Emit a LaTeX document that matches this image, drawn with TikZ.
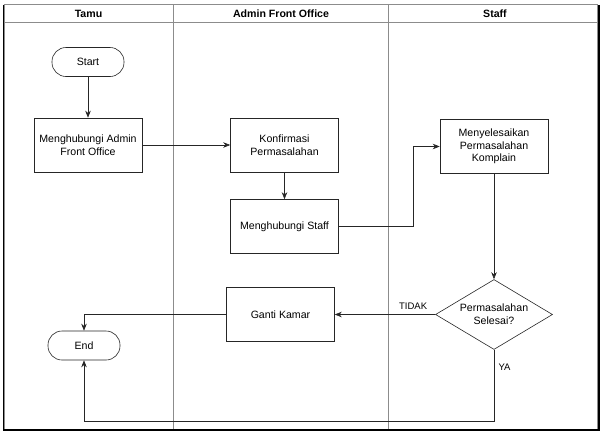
\documentclass[tikz,border=0pt]{standalone}
\usepackage{fontspec}
\setmainfont{Liberation Sans}
\usepackage{tikz}
\usetikzlibrary{arrows.meta, shapes.geometric, calc, positioning}

\begin{document}
\begin{tikzpicture}[x=1pt, y=-1pt,
  font=\fontsize{10.6}{12.7}\selectfont,
  lane/.style={draw=black!45, line width=0.7pt},
  proses/.style={draw=black!85, line width=0.6pt, minimum width=108pt, minimum height=54pt, align=center, inner sep=2pt},
  terminal/.style={draw=black!85, line width=0.6pt, rounded corners=14pt, minimum width=72pt, minimum height=29pt, inner sep=2pt},
  keputusan/.style={draw=black!85, line width=0.6pt, diamond, aspect=1.67, minimum width=117pt, minimum height=70pt, inner sep=0pt, align=center},
  alur/.style={draw=black!85, line width=0.6pt, -{Stealth[length=7pt, width=5.5pt]}},
  judul/.style={font=\fontsize{10.6}{12.7}\selectfont\bfseries}]
\useasboundingbox (0,0) rectangle (603,432);

% kolom (swimlane)
\draw[lane] (4,4.5) rectangle (597,430);
\draw[lane] (4,22.5) -- (597,22.5);
\draw[lane] (173,4.5) -- (173,430);
\draw[lane] (388,4.5) -- (388,430);
\draw[black, line width=1.4pt] (3.5,4.5) -- (3.5,430) -- (599,430) -- (599,4.5);
\node[judul] (tamu) at (88.5,14) {Tamu};
\node[judul] (admin) at (281,14) {Admin Front Office};
\node[judul] (staff) at (495,14) {Staff};

% langkah
\node[terminal] (start) at (88,62) {Start};
\node[proses] (hubadmin) at (88,145) {Menghubungi Admin\\Front Office};
\node[proses] (konfirmasi) at (284.5,145) {Konfirmasi\\Permasalahan};
\node[proses] (hubstaff) at (284.5,226.5) {Menghubungi Staff};
\node[proses] (selesaikan) at (494,146.5) {Menyelesaikan\\Permasalahan\\Komplain};
\node[keputusan] (cek) at (494,314.5) {Permasalahan\\Selesai?};
\node[proses] (ganti) at (280.5,314.5) {Ganti Kamar};
\node[terminal] (end) at (84,345.5) {End};
\coordinate (tekuk) at (413,226.5);
\coordinate (bawah) at (494,421);

% panah
\draw[alur] (start) -- (hubadmin);
\draw[alur] (hubadmin) -- (konfirmasi);
\draw[alur] (konfirmasi) -- (hubstaff);
\draw[alur] (hubstaff.east) -- (tekuk) |- (selesaikan.west);
\draw[alur] (selesaikan) -- (cek);
\draw[alur] (cek.west) -- (ganti.east) node[pos=0.22, above=1pt, font=\fontsize{9.5}{11}\selectfont] (tidak) {TIDAK};
\draw[alur] (ganti.west) -| (end.north);
\draw[alur] (cek.south) -- (bawah) -| (end.south);
\node[right=1pt, font=\fontsize{9.5}{11}\selectfont] (ya) at (494,367) {YA};
\end{tikzpicture}
\end{document}
